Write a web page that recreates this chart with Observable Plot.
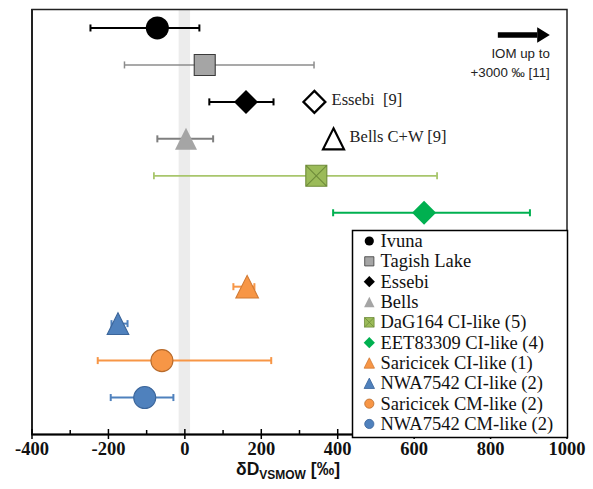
<!DOCTYPE html>
<html><head><meta charset="utf-8">
<script src="https://cdn.jsdelivr.net/npm/d3@7"></script>
<script src="https://cdn.jsdelivr.net/npm/@observablehq/plot@0.6"></script>
<style>body{margin:0;background:#fff} #chart{width:593px;height:489px}</style>
</head><body><div id="chart"></div>
<script>
// ---- data ----
const names = ["Ivuna","Tagish Lake","Essebi","Bells","DaG164 CI-like (5)","EET83309 CI-like (4)","Saricicek CI-like (1)","NWA7542 CI-like (2)","Saricicek CM-like (2)","NWA7542 CM-like (2)"];
const rows = [11, 10, 9, 8, 7, 6, 4, 3, 2, 1];
const dD = [-72, 52, 160, 3, 344, 626, 163, -175, -60, -105];
const errLow = [-247, -158, 64, -72, -81, 388, 127, -192, -228, -194];
const errHigh = [38, 338, 232, 74, 660, 903, 182, -150, 226, -30];
const xTicks = [-400, -200, 0, 200, 400, 600, 800, 1000];
const minorTicks = [-300, -100, 100, 300, 500, 700, 900];
const bandRange = [-15, 15];
const openLabels = ["Essebi\u00A0 [9]", "Bells C+W [9]"];
const openValues = [339, 389];
const openRows = [9, 8];
const openLabelX = [384, 431];
const iomLines = ["IOM up to", "+3000 \u2030 [11]"];
const iomLineRows = [10.31, 9.8];
const iomArrow = {from: 819, to: 955, headStart: 922, row: 10.81};

// ---- styles ----
const shapes = ["circle","square","diamond","triangle","xsquare","diamond","triangle","triangle","circle","circle"];
const fills = ["#000000","#A5A5A5","#000000","#A5A5A5","#9BBB59","#00B050","#F79646","#4F81BD","#F79646","#4F81BD"];
const strokes = ["none","#3a3a3a","none","none","#6F8C3A","none","#D07A35","#3B659A","#B86B2C","#3B659A"];
const barColors = ["#000000","#8C8C8C","#000000","#7F7F7F","#A8C66C","#00B050","#F79646","#4F81BD","#F79646","#4F81BD"];
const barWidths = [2, 1.5, 2, 2, 1.8, 2, 2, 2, 2, 2];
const markerR = [11.5, 10.5, 12, 11, 10.5, 12, 11.3, 10.8, 11, 11];
const legendR = [4.6, 4.6, 5.6, 5.2, 4.8, 5.6, 5.2, 5.2, 4.6, 4.6];

const SYM = {
  circle: d3.symbolCircle,
  square: {draw(c, s){const r=Math.sqrt(s/Math.PI); c.moveTo(-r,-r); c.lineTo(r,-r); c.lineTo(r,r); c.lineTo(-r,r); c.closePath();}},
  diamond: {draw(c, s){const r=Math.sqrt(s/Math.PI); c.moveTo(0,-r); c.lineTo(r,0); c.lineTo(0,r); c.lineTo(-r,0); c.closePath();}},
  triangle: {draw(c, s){const r=Math.sqrt(s/Math.PI); c.moveTo(0,-r); c.lineTo(r,r); c.lineTo(-r,r); c.closePath();}},
  xsquare: {draw(c, s){const r=Math.sqrt(s/Math.PI); c.moveTo(-r,-r); c.lineTo(r,-r); c.lineTo(r,r); c.lineTo(-r,r); c.closePath(); c.moveTo(-r,-r); c.lineTo(r,r); c.moveTo(r,-r); c.lineTo(-r,r);}},
  arrowHead: {draw(c){c.moveTo(0,0); c.lineTo(-12.6,-7.7); c.lineTo(-12.6,7.7); c.closePath();}}
};

const data = names.map((n, i) => ({name: n, row: rows[i], v: dD[i], lo: errLow[i], hi: errHigh[i], i}));
const cap = 0.095;

const W = 593, H = 489, mL = 31.5, mR = 26.5, mT = 9, mB = 55;
const serif = "Liberation Serif, Times New Roman, serif";
const sans = "Liberation Sans, Arial, sans-serif";

const marks = [
  Plot.rect([bandRange], {x1: d => d[0], x2: d => d[1], fill: "#ECECEC"}),
];
data.forEach(d => {
  const i = d.i;
  marks.push(Plot.link([d], {x1: "lo", x2: "hi", y1: "row", y2: "row", stroke: barColors[i], strokeWidth: barWidths[i]}));
  marks.push(Plot.link([d.lo, d.hi], {x1: x => x, x2: x => x, y1: () => d.row - cap, y2: () => d.row + cap, stroke: barColors[i], strokeWidth: barWidths[i]}));
});
data.forEach(d => {
  const i = d.i;
  marks.push(Plot.dot([d], {x: "v", y: "row", r: markerR[i], symbol: SYM[shapes[i]], fill: fills[i], stroke: strokes[i], strokeWidth: 1.1, strokeOpacity: 1}));
});
// open reference symbols and labels
const openData = openLabels.map((t, i) => ({t, v: openValues[i], row: openRows[i], lx: openLabelX[i]}));
marks.push(Plot.dot([openData[0]], {x: "v", y: "row", r: 11, symbol: SYM.diamond, fill: "white", stroke: "#000", strokeWidth: 2.2}));
marks.push(Plot.dot([openData[1]], {x: "v", y: "row", r: 10.5, symbol: SYM.triangle, fill: "white", stroke: "#000", strokeWidth: 2.2}));
marks.push(Plot.text(openData, {x: "lx", y: "row", text: "t", textAnchor: "start", fontSize: 16.5, fontFamily: serif, fill: "#222", dy: -2}));
// IOM arrow
marks.push(Plot.link([iomArrow], {x1: "from", x2: "headStart", y1: "row", y2: "row", stroke: "#000", strokeWidth: 5.5}));
marks.push(Plot.dot([iomArrow], {x: "to", y: "row", r: 8, symbol: SYM.arrowHead, fill: "#000", stroke: "none"}));
marks.push(Plot.text(iomLines.map((t, i) => ({t, row: iomLineRows[i]})), {x: () => iomArrow.to, y: "row", text: "t", textAnchor: "end", fontSize: 13.3, fontFamily: sans, fill: "#222"}));
// frame & axis
marks.push(Plot.frame({stroke: "#222", strokeWidth: 1.5}));
marks.push(Plot.ruleX([-400], {stroke: "#222", strokeWidth: 2}));
marks.push(Plot.ruleY([0], {stroke: "#000", strokeWidth: 2}));
marks.push(Plot.ruleX(xTicks, {stroke: "#000", strokeWidth: 1.5, insetTop: 420, insetBottom: -5}));
marks.push(Plot.ruleX(minorTicks, {stroke: "#000", strokeWidth: 1.5, insetTop: 421, insetBottom: 0}));
marks.push(Plot.text(xTicks, {x: d => d, frameAnchor: "bottom", dy: 20, text: d => String(d), fontSize: 18.5, fontWeight: "bold", fontFamily: serif, fill: "#111"}));

const plot = Plot.plot({
  width: W, height: H, marginLeft: mL, marginRight: mR, marginTop: mT, marginBottom: mB,
  x: {domain: [-400, 1000], axis: null},
  y: {domain: [0, 11.5], axis: null},
  style: {background: "white", fontFamily: serif, overflow: "visible"},
  marks
});

const svg = d3.select(plot);
// axis title with subscript
const title = svg.append("text")
  .attr("x", 288).attr("y", 475)
  .attr("text-anchor", "middle")
  .style("font-family", sans).style("font-weight", "bold").style("font-size", "17.5px").attr("fill", "#111");
title.append("tspan").text("\u03B4D");
title.append("tspan").style("font-size", "12px").attr("dy", 4).text("VSMOW");
title.append("tspan").attr("dy", -4).text("\u00A0[\u2030]");

// legend
const lg = svg.append("g").attr("transform", "translate(352.5,230.5)").attr("text-anchor", "start");
lg.append("rect").attr("width", 215).attr("height", 207).attr("fill", "white").attr("stroke", "#000").attr("stroke-width", 1.5);
names.forEach((n, i) => {
  const by = 16.5 + i * 20.33;
  lg.append("path")
    .attr("transform", `translate(16.8,${by - 6})`)
    .attr("d", d3.symbol(SYM[shapes[i]], Math.PI * legendR[i] * legendR[i])())
    .attr("fill", fills[i])
    .attr("stroke", shapes[i] === "square" ? "#3a3a3a" : (strokes[i] === "none" ? "none" : strokes[i]))
    .attr("stroke-width", 0.8);
  lg.append("text").attr("x", 28).attr("y", by).attr("text-anchor", "start")
    .style("font-family", serif).style("font-size", "18.5px").attr("fill", "#111").text(n);
});

document.getElementById("chart").appendChild(plot);
</script>
</body></html>
